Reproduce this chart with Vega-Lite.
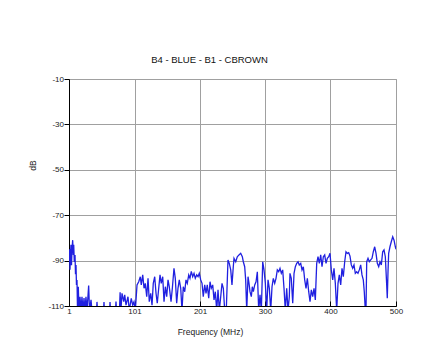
{
  "$schema": "https://vega.github.io/schema/vega-lite/v6.json",
  "width": 327,
  "height": 227,
  "autosize": {"type": "none"},
  "padding": {"left": 69, "top": 79, "right": 25, "bottom": 41},
  "background": "white",
  "title": {
    "text": "B4 - BLUE - B1 - CBROWN",
    "font": "Liberation Sans",
    "fontSize": 9.5,
    "fontWeight": "normal",
    "color": "#111",
    "anchor": "middle",
    "dx": -23,
    "offset": 11
  },
  "config": {
    "view": {"stroke": "#a0a0a0", "strokeWidth": 1},
    "axis": {
      "labelFont": "Liberation Sans",
      "labelFontSize": 8,
      "labelColor": "#222",
      "titleFont": "Liberation Sans",
      "titleFontSize": 8.5,
      "titleFontWeight": "normal",
      "titleColor": "#222",
      "gridColor": "#a0a0a0",
      "gridWidth": 1,
      "domainColor": "#000",
      "tickColor": "#000"
    }
  },
  "data": {
    "values": [
      {"f": 1, "db": -90.6}, {"f": 1.8, "db": -85}, {"f": 2.5, "db": -94}, {"f": 3.3, "db": -87.5},
      {"f": 4, "db": -83}, {"f": 4.8, "db": -92}, {"f": 5.6, "db": -85}, {"f": 6.6, "db": -81},
      {"f": 7.6, "db": -87.5}, {"f": 8.2, "db": -83}, {"f": 9.1, "db": -90.6}, {"f": 10.2, "db": -87.5},
      {"f": 10.9, "db": -96}, {"f": 11.7, "db": -92}, {"f": 12.4, "db": -100.7}, {"f": 13.2, "db": -98.5},
      {"f": 14, "db": -112}, {"f": 15.2, "db": -101.5}, {"f": 16.3, "db": -112}, {"f": 17.8, "db": -106},
      {"f": 19.3, "db": -112}, {"f": 20.8, "db": -106}, {"f": 22.4, "db": -112}, {"f": 23.9, "db": -106.5},
      {"f": 25.4, "db": -112}, {"f": 26.9, "db": -106}, {"f": 28.5, "db": -112}, {"f": 31, "db": -101},
      {"f": 32.3, "db": -112}, {"f": 34.6, "db": -107.3}, {"f": 36, "db": -112}, {"f": 43, "db": -112},
      {"f": 43.7, "db": -108.2}, {"f": 44.5, "db": -112}, {"f": 53.7, "db": -112}, {"f": 54.4, "db": -108.2},
      {"f": 55, "db": -112}, {"f": 63, "db": -112}, {"f": 63.6, "db": -108.2}, {"f": 64.3, "db": -112},
      {"f": 72, "db": -112}, {"f": 72.7, "db": -108}, {"f": 73.5, "db": -112}, {"f": 78, "db": -112},
      {"f": 79, "db": -104}, {"f": 80.2, "db": -112},
      {"f": 81.9, "db": -104.4}, {"f": 84.5, "db": -108.1}, {"f": 86, "db": -105.1}, {"f": 88, "db": -109.6},
      {"f": 91, "db": -105.9}, {"f": 93, "db": -112}, {"f": 96, "db": -106.6}, {"f": 98.2, "db": -109.6},
      {"f": 100.2, "db": -108.1}, {"f": 102.2, "db": -112}, {"f": 104.8, "db": -100.7}, {"f": 107.4, "db": -99.3},
      {"f": 109.8, "db": -97.1}, {"f": 111.3, "db": -100.7}, {"f": 113.5, "db": -96.3}, {"f": 115.5, "db": -102.2},
      {"f": 117.4, "db": -100}, {"f": 119.6, "db": -105.9}, {"f": 121.6, "db": -97.8}, {"f": 123.5, "db": -108.1},
      {"f": 125.7, "db": -104.4}, {"f": 127.7, "db": -109.6}, {"f": 129.6, "db": -100}, {"f": 131.8, "db": -97.1},
      {"f": 133.8, "db": -104.4}, {"f": 135.7, "db": -108.8}, {"f": 137.9, "db": -102.2}, {"f": 139.9, "db": -96.3},
      {"f": 141.8, "db": -100}, {"f": 144, "db": -97.1}, {"f": 146, "db": -108.1}, {"f": 148, "db": -101.5},
      {"f": 150.1, "db": -105.9}, {"f": 152.1, "db": -98.5}, {"f": 154, "db": -101.5}, {"f": 156.7, "db": -108.1},
      {"f": 158.7, "db": -102.2}, {"f": 161.2, "db": -93.4}, {"f": 163.2, "db": -97.8}, {"f": 165.3, "db": -108.8},
      {"f": 167.3, "db": -102.2}, {"f": 169.3, "db": -98.5},
      {"f": 171.5, "db": -102.2}, {"f": 173.4, "db": -112}, {"f": 175.4, "db": -101.5}, {"f": 177.6, "db": -103.7},
      {"f": 179.5, "db": -98.5}, {"f": 181.5, "db": -100}, {"f": 183.7, "db": -96.3}, {"f": 185.6, "db": -97.8},
      {"f": 187.6, "db": -94.8}, {"f": 189.8, "db": -97.1}, {"f": 191.8, "db": -95.6}, {"f": 193.7, "db": -97.8},
      {"f": 195.9, "db": -96.3}, {"f": 197.9, "db": -97.1}, {"f": 199.8, "db": -95.6}, {"f": 202, "db": -98.5},
      {"f": 204, "db": -100}, {"f": 205.9, "db": -105.9}, {"f": 208.1, "db": -100.7}, {"f": 210.1, "db": -104.4},
      {"f": 212, "db": -100.7}, {"f": 214.2, "db": -106.6}, {"f": 216.2, "db": -99.3}, {"f": 218.1, "db": -102.2},
      {"f": 220.3, "db": -100.7}, {"f": 222.3, "db": -107.3}, {"f": 224.3, "db": -103.7}, {"f": 226.4, "db": -112},
      {"f": 228.4, "db": -102.9}, {"f": 230.4, "db": -112}, {"f": 232.5, "db": -105.9}, {"f": 234.5, "db": -100},
      {"f": 236.5, "db": -102.2}, {"f": 238.6, "db": -112}, {"f": 241, "db": -112}, {"f": 243.6, "db": -89.7},
      {"f": 245.6, "db": -91.2}, {"f": 247.8, "db": -94.1}, {"f": 249.7, "db": -100.7}, {"f": 251.7, "db": -92.7},
      {"f": 252.8, "db": -89}, {"f": 255.4, "db": -90.5}, {"f": 257.8, "db": -88.3}, {"f": 260.4, "db": -87.5},
      {"f": 263, "db": -86.8}, {"f": 265.5, "db": -88.3}, {"f": 267, "db": -90.5}, {"f": 269.1, "db": -92.7},
      {"f": 270.6, "db": -98.5}, {"f": 272.2, "db": -112}, {"f": 274.2, "db": -97.1}, {"f": 275.7, "db": -100},
      {"f": 277.2, "db": -103.7}, {"f": 279.2, "db": -105.9}, {"f": 280.7, "db": -101.5}, {"f": 282.3, "db": -103.7},
      {"f": 284.4, "db": -100.7}, {"f": 286.4, "db": -99.3}, {"f": 288.4, "db": -94.9}, {"f": 290.5, "db": -112},
      {"f": 292.5, "db": -105.1}, {"f": 294.5, "db": -112}, {"f": 296.6, "db": -90.5}, {"f": 298.6, "db": -94.1},
      {"f": 300.6, "db": -100}, {"f": 302.7, "db": -112}, {"f": 304.7, "db": -98.5}, {"f": 306.7, "db": -102.2},
      {"f": 308.8, "db": -112}, {"f": 310.8, "db": -101.5}, {"f": 312.8, "db": -97.8}, {"f": 314.9, "db": -100},
      {"f": 316.9, "db": -97.8}, {"f": 318.9, "db": -94.1}, {"f": 321, "db": -94.9}, {"f": 323, "db": -93.4},
      {"f": 325, "db": -95.6}, {"f": 327.1, "db": -94.1}, {"f": 329.1, "db": -102.2}, {"f": 331.1, "db": -112},
      {"f": 333.2, "db": -102.2}, {"f": 335.2, "db": -112}, {"f": 337.2, "db": -105.9},
      {"f": 338.2, "db": -95.6}, {"f": 340.2, "db": -97.8}, {"f": 342.4, "db": -108.8}, {"f": 344.4, "db": -95.6},
      {"f": 346.4, "db": -92.7}, {"f": 348.5, "db": -91.2}, {"f": 350.5, "db": -90.5}, {"f": 352.4, "db": -91.9},
      {"f": 354.6, "db": -91.2}, {"f": 356.6, "db": -94.1}, {"f": 358.6, "db": -92.7}, {"f": 360.7, "db": -98.5},
      {"f": 362.7, "db": -102.2}, {"f": 364.7, "db": -97.8}, {"f": 366.8, "db": -103.7}, {"f": 368.8, "db": -108.1},
      {"f": 370.8, "db": -102.9}, {"f": 372.9, "db": -105.9}, {"f": 374.9, "db": -102.2}, {"f": 376.9, "db": -107.3},
      {"f": 379, "db": -91.2}, {"f": 381, "db": -88.3}, {"f": 383, "db": -91.2}, {"f": 385.1, "db": -87.5},
      {"f": 387.1, "db": -92.7}, {"f": 389.1, "db": -88.3}, {"f": 391.2, "db": -87.5}, {"f": 393.2, "db": -91.2},
      {"f": 395.2, "db": -89}, {"f": 397.3, "db": -88.3}, {"f": 399.3, "db": -86.8}, {"f": 401.3, "db": -94.1},
      {"f": 403.4, "db": -98.5}, {"f": 405.4, "db": -93.4}, {"f": 407.4, "db": -100}, {"f": 409.5, "db": -112},
      {"f": 411.5, "db": -100}, {"f": 413.5, "db": -96.3}, {"f": 415.6, "db": -100.7}, {"f": 417.6, "db": -93.4},
      {"f": 419.6, "db": -97.1}, {"f": 421.7, "db": -90.5}, {"f": 423.7, "db": -86.1}, {"f": 425.7, "db": -86.8},
      {"f": 427.8, "db": -86.5}, {"f": 429.8, "db": -88},
      {"f": 431.8, "db": -91.9}, {"f": 433.9, "db": -93.4}, {"f": 435.9, "db": -91.9}, {"f": 437.9, "db": -95.6},
      {"f": 440, "db": -94.9}, {"f": 442, "db": -95.6}, {"f": 444, "db": -94.1}, {"f": 446.1, "db": -91.9},
      {"f": 448.1, "db": -96.3}, {"f": 450.1, "db": -98.5}, {"f": 451.6, "db": -103.7}, {"f": 453.2, "db": -112},
      {"f": 454.2, "db": -112}, {"f": 455.3, "db": -90.5}, {"f": 457.3, "db": -89}, {"f": 459.3, "db": -90.5},
      {"f": 461.4, "db": -89.7}, {"f": 463.4, "db": -89}, {"f": 465.4, "db": -86.1}, {"f": 467.5, "db": -83.9},
      {"f": 469.5, "db": -86.8}, {"f": 471.5, "db": -91.2}, {"f": 473.6, "db": -92.7}, {"f": 475.6, "db": -90.5},
      {"f": 477.6, "db": -91.9}, {"f": 479.7, "db": -86.1}, {"f": 481.7, "db": -85.3}, {"f": 483.7, "db": -88.3},
      {"f": 485.8, "db": -100.7}, {"f": 486.7, "db": -106.6}, {"f": 487.8, "db": -94.9}, {"f": 488.8, "db": -86.8},
      {"f": 490.8, "db": -83.9}, {"f": 492.8, "db": -81.7}, {"f": 495, "db": -79.5}, {"f": 497, "db": -81},
      {"f": 499, "db": -83.9}, {"f": 500, "db": -85}
    ]
  },
  "mark": {"type": "line", "color": "#2020e0", "strokeWidth": 1.3, "clip": true, "interpolate": "linear"},
  "encoding": {
    "x": {
      "field": "f",
      "type": "quantitative",
      "scale": {"domain": [1, 500], "nice": false, "zero": false},
      "axis": {
        "title": "Frequency (MHz)",
        "values": [1, 101, 201, 300, 400, 500],
        "tickSize": -5,
        "labelPadding": 6,
        "titlePadding": 12,
        "titleX": 141,
        "labelFlush": false
      }
    },
    "y": {
      "field": "db",
      "type": "quantitative",
      "scale": {"domain": [-110, -10], "nice": false, "zero": false},
      "axis": {
        "title": "dB",
        "values": [-110, -90, -70, -50, -30, -10],
        "labelExpr": "toString(datum.value)",
        "tickSize": 5,
        "labelPadding": 0.5,
        "titleX": -32,
        "titleY": 86,
        "labelFlush": false
      }
    }
  }
}
